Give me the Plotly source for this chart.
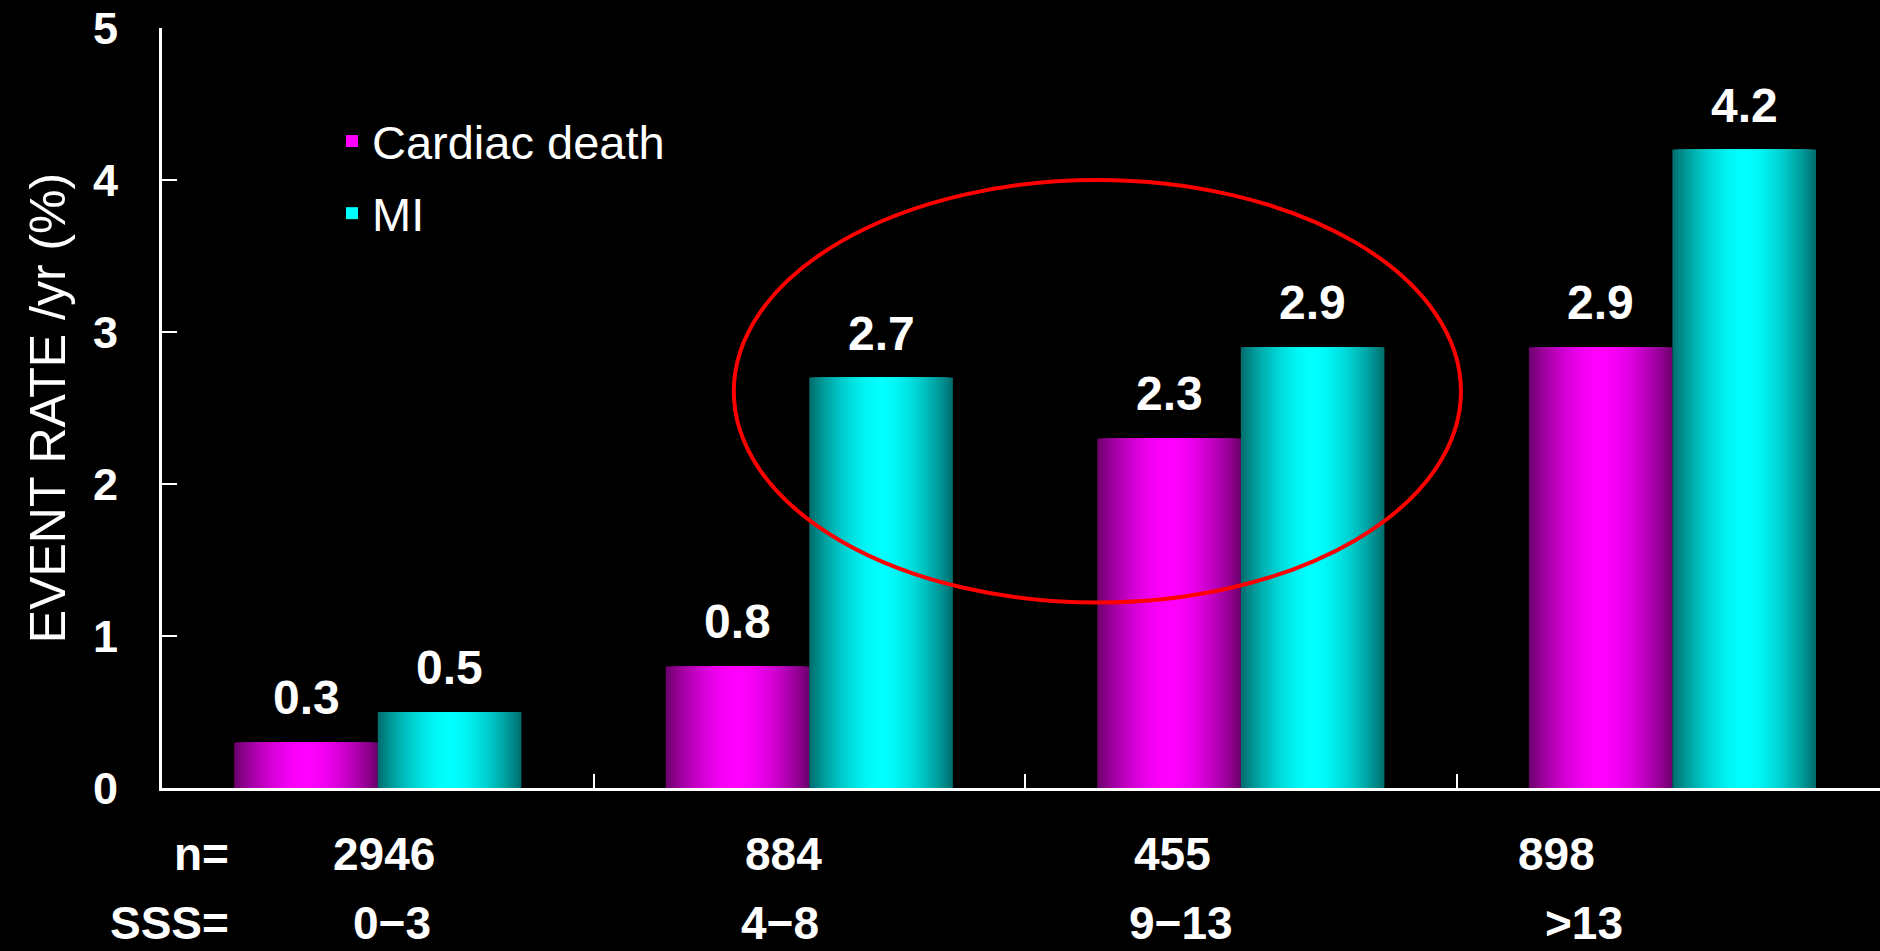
import plotly.graph_objects as go

# ---------------- data ----------------
categories = ["0-3", "4-8", "9-13", ">13"]
cardiac_death = [0.3, 0.8, 2.3, 2.9]
mi = [0.5, 2.7, 2.9, 4.2]
n_values = ["2946", "884", "455", "898"]
sss_labels = ["0−3", "4−8", "9−13", "&gt;13"]
y_ticks = [0, 1, 2, 3, 4, 5]

# ---------------- layout constants ----------------
W_FIG, H_FIG = 1880, 951
M_L, M_R, M_T, M_B = 162, 0, 28, 163
PLOT_W = W_FIG - M_L - M_R
PLOT_H = H_FIG - M_T - M_B
X_RANGE = [-0.5, 3.481]
BAR_W = 0.3326          # width of one bar (category units)
N_STEPS = 26            # gradient steps per bar
FONT = "Liberation Sans, Arial, sans-serif"


def px_to_paper_x(px):
    return (px - M_L) / PLOT_W


def px_to_paper_y(py):
    return (H_FIG - M_B - py) / PLOT_H


def mix(dark, bright, f):
    return "rgb(%d,%d,%d)" % tuple(round(d + (b - d) * f) for d, b in zip(dark, bright))


series = [
    dict(name="Cardiac death", values=cardiac_death, center=-BAR_W / 2,
         dark=(108, 0, 108), bright=(255, 0, 255)),
    dict(name="MI", values=mi, center=BAR_W / 2,
         dark=(0, 108, 108), bright=(0, 255, 255)),
]

fig = go.Figure()
for s in series:
    for k in range(N_STEPS):
        frac = 1 - k / N_STEPS                      # relative width of this layer
        d = 1 - (k + 0.5) / N_STEPS                 # distance from centre of visible band
        f = 1 - d ** 1.7
        w = BAR_W * frac
        fig.add_trace(go.Bar(
            x=categories, y=s["values"], name=s["name"],
            width=w, offset=s["center"] - w / 2,
            marker=dict(color=mix(s["dark"], s["bright"], f), line=dict(width=0)),
            legendgroup=s["name"], showlegend=(k == N_STEPS - 1),
            hoverinfo="skip" if k < N_STEPS - 1 else None,
        ))

# value labels above bars
annotations = []
for s in series:
    for i, v in enumerate(s["values"]):
        annotations.append(dict(
            x=i + s["center"], y=v, xref="x", yref="y",
            text=f"{v:.1f}", showarrow=False, yanchor="bottom", yshift=16,
            font=dict(family=FONT, size=48, color="white", weight="bold"),
        ))

# bottom text rows
n_px = [384, 783, 1172, 1556]
sss_px = [392, 780, 1181, 1584]
row1_y = 854
bottom_font = dict(family=FONT, size=46, color="white", weight="bold")
annotations.append(dict(x=px_to_paper_x(231), y=px_to_paper_y(row1_y), xref="paper", yref="paper",
                        text="n=", showarrow=False, xanchor="right", yanchor="middle", font=bottom_font))
annotations.append(dict(x=px_to_paper_x(231), y=px_to_paper_y(H_FIG), xref="paper", yref="paper",
                        text="SSS=", showarrow=False, xanchor="right", yanchor="bottom", font=bottom_font))
for t, p in zip(n_values, n_px):
    annotations.append(dict(x=px_to_paper_x(p), y=px_to_paper_y(row1_y), xref="paper", yref="paper",
                            text=t, showarrow=False, xanchor="center", yanchor="middle", font=bottom_font))
for t, p in zip(sss_labels, sss_px):
    annotations.append(dict(x=px_to_paper_x(p), y=px_to_paper_y(H_FIG), xref="paper", yref="paper",
                            text=t, showarrow=False, xanchor="center", yanchor="bottom", font=bottom_font))

fig.update_layout(
    width=W_FIG, height=H_FIG,
    margin=dict(l=M_L, r=M_R, t=M_T, b=M_B, autoexpand=False),
    paper_bgcolor="black", plot_bgcolor="black",
    barmode="overlay",
    font=dict(family=FONT, color="white"),
    showlegend=True,
    legend=dict(
        x=px_to_paper_x(332), y=px_to_paper_y(104), xanchor="left", yanchor="top",
        bgcolor="rgba(0,0,0,0)", traceorder="grouped", tracegroupgap=8,
        font=dict(family=FONT, size=47, color="white"),
        itemclick=False, itemdoubleclick=False,
    ),
    xaxis=dict(
        type="category", range=X_RANGE, showgrid=False, zeroline=False,
        showline=True, linecolor="white", linewidth=3,
        ticks="inside", tickson="boundaries", ticklen=14, tickwidth=2, tickcolor="white",
        showticklabels=False, fixedrange=True,
    ),
    yaxis=dict(
        range=[0, 5], tickvals=y_ticks, ticktext=[str(t) for t in y_ticks],
        showgrid=False, zeroline=False,
        showline=True, linecolor="white", linewidth=3,
        ticks="inside", ticklen=15, tickwidth=2, tickcolor="white",
        tickfont=dict(family=FONT, size=45, color="white", weight="bold"),
        ticklabelstandoff=32,
        title=dict(text="EVENT RATE /yr (%)", standoff=12,
                   font=dict(family=FONT, size=50, color="white")),
        fixedrange=True,
    ),
    shapes=[dict(type="circle", xref="x", yref="y", x0=0.825, x1=2.51, y0=1.22, y1=4.0,
                 line=dict(color="red", width=4), fillcolor="rgba(0,0,0,0)")],
    annotations=annotations,
)

fig.write_html("out.html")
